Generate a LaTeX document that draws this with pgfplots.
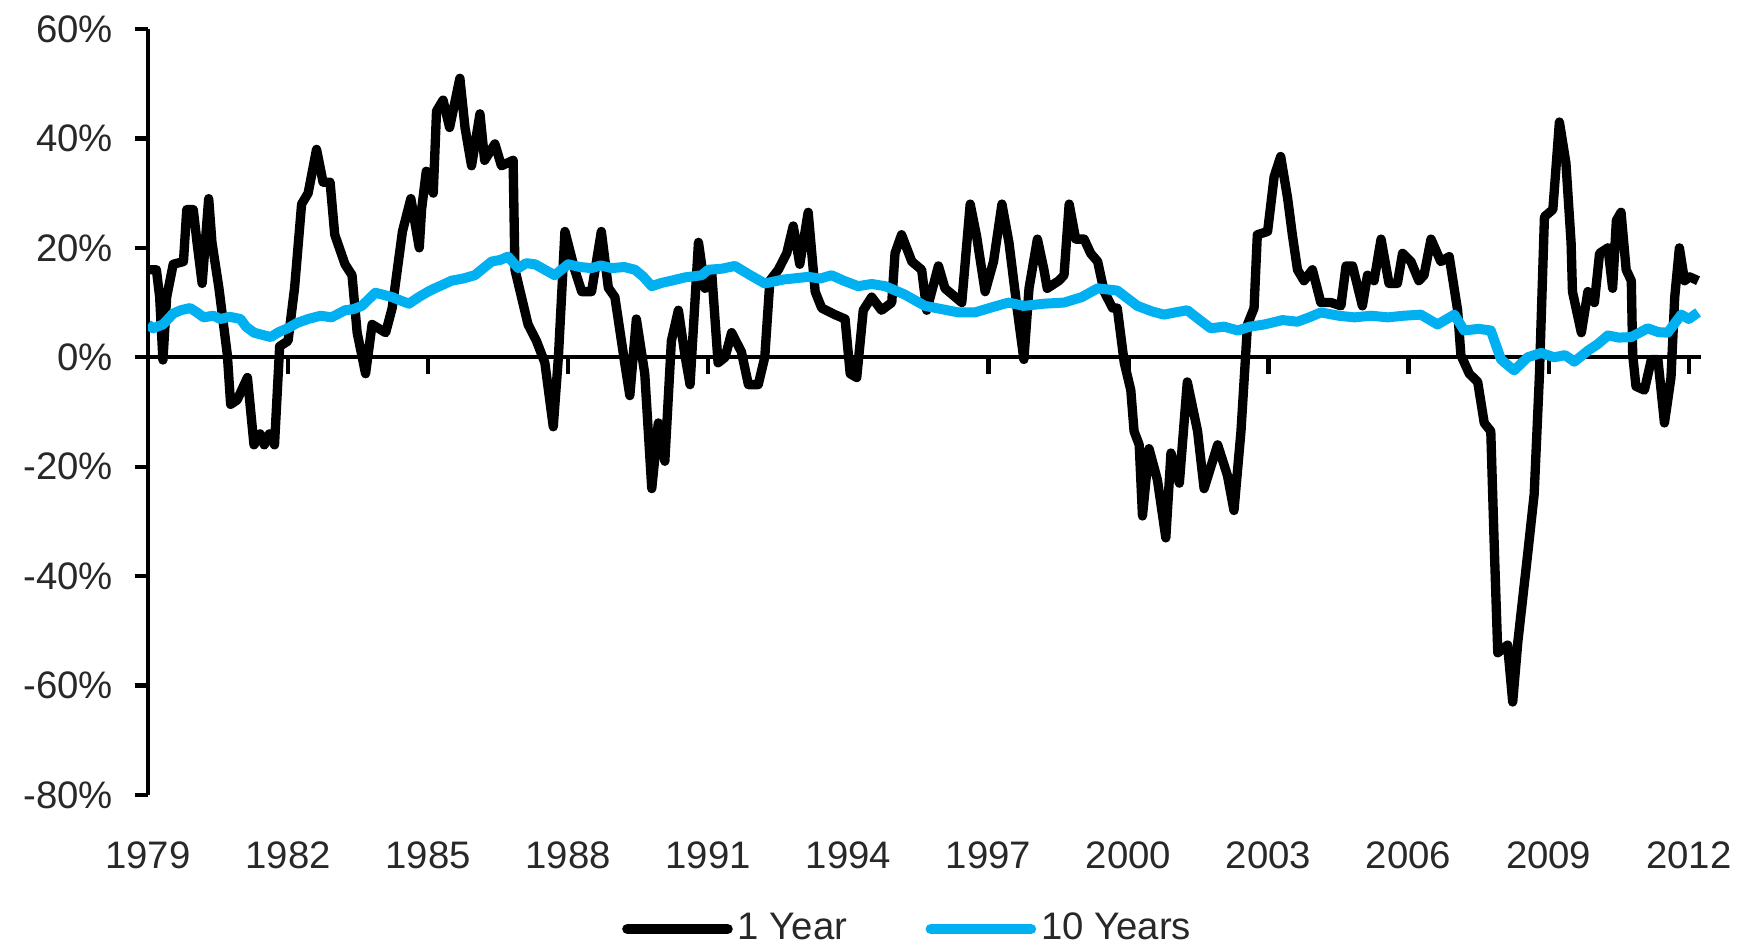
\documentclass[border=0pt]{standalone}
\usepackage{fontspec}
\setmainfont{Liberation Sans}
\usepackage{pgfplots}
\pgfplotsset{compat=1.18}
\definecolor{tenblue}{RGB}{0,176,240}
\definecolor{txt}{RGB}{40,40,40}
\begin{document}
\begin{tikzpicture}
% zero line with downward year ticks (drawn first, beneath the series)
\begin{axis}[
  scale only axis, width=466pt, height=229.8pt,
  xmin=1979, xmax=2012.27, ymin=-80, ymax=60,
  axis x line=middle, axis y line=none,
  x axis line style={-, line width=1.3pt, black},
  xtick={1979,1982,...,2012}, xticklabels={},
  xtick align=outside, major tick length=5pt,
  xtick style={line width=1.3pt, black},
  ytick=\empty,
]
\addplot[draw=none] coordinates {(1979,0) (2012,0)};
\end{axis}
% main axis with the series
\begin{axis}[
  name=main,
  scale only axis, width=466pt, height=229.8pt,
  xmin=1979, xmax=2012.27, ymin=-80, ymax=60,
  axis y line*=left, axis x line*=bottom,
  x axis line style={draw=none},
  y axis line style={-, line width=1.3pt, black},
  ytick={-80,-60,...,60},
  yticklabels={-80\%,-60\%,-40\%,-20\%,0\%,20\%,40\%,60\%},
  ytick style={line width=1.3pt, black},
  tick align=outside, major tick length=4pt,
  xtick={1979,1982,...,2012},
  xticklabels={1979,1982,1985,1988,1991,1994,1997,2000,2003,2006,2009,2012},
  x tick style={draw=none},
  xticklabel style={yshift=-6.5pt, font=\fontsize{11.5}{13}\selectfont, text=txt},
  yticklabel style={xshift=-3pt, font=\fontsize{11.5}{13}\selectfont, text=txt},
  legend style={at={(0.49,-0.175)}, anchor=center, draw=none, fill=none,
    font=\fontsize{11.5}{13}\selectfont, text=txt, legend columns=2,
    /tikz/every even column/.append style={column sep=22pt},
    nodes={inner sep=1.5pt}},
  legend cell align=left,
  legend image code/.code={\draw[#1, line width=3.2pt, line cap=round] (0pt,0pt) -- (30pt,0pt);},
]
\addplot[black, line width=2.8pt, line join=round] coordinates {
(1979.00,16) (1979.18,16) (1979.25,11) (1979.32,-0.5) (1979.40,11) (1979.54,17)
(1979.76,17.5) (1979.83,27) (1979.97,27) (1980.05,21) (1980.16,13.5) (1980.30,29)
(1980.37,21) (1980.52,12.6) (1980.70,0.4) (1980.77,-8.6) (1980.91,-7.8) (1981.13,-3.7)
(1981.27,-16) (1981.40,-14) (1981.49,-16) (1981.60,-14) (1981.71,-16) (1981.82,2) (1982.00,3)
(1982.14,12.7) (1982.29,28) (1982.43,30) (1982.61,38) (1982.75,32) (1982.90,32)
(1983.00,22.4) (1983.22,17) (1983.37,15) (1983.48,4.5) (1983.66,-3) (1983.80,6)
(1984.09,4.5) (1984.23,9) (1984.45,23) (1984.63,29) (1984.81,20) (1984.86,27)
(1984.96,34) (1985.11,30) (1985.18,45) (1985.32,47) (1985.46,42) (1985.68,51)
(1985.79,42) (1985.93,35) (1986.11,44.5) (1986.21,36) (1986.43,39) (1986.57,35)
(1986.82,36) (1986.86,16) (1987.00,11) (1987.14,6) (1987.32,3) (1987.50,-1)
(1987.68,-12.7) (1987.79,0) (1987.93,23) (1988.14,16) (1988.29,12) (1988.50,12)
(1988.71,23) (1988.86,12.7) (1989.00,11) (1989.21,-1) (1989.32,-7) (1989.46,7)
(1989.64,-3) (1989.79,-24) (1989.93,-12) (1990.07,-19) (1990.21,3) (1990.36,8.6)
(1990.50,0.4) (1990.61,-5) (1990.79,21) (1990.93,12.6) (1991.07,16) (1991.21,-1)
(1991.36,0) (1991.50,4.5) (1991.71,1) (1991.86,-5) (1992.07,-5) (1992.21,0)
(1992.32,14) (1992.50,16) (1992.68,19) (1992.82,24) (1992.96,17) (1993.14,26.5)
(1993.29,12) (1993.43,9) (1993.71,7.8) (1993.93,7) (1994.04,-3) (1994.18,-3.7)
(1994.32,8.6) (1994.50,11) (1994.71,8.6) (1994.93,10) (1995.00,19) (1995.14,22.4)
(1995.36,17.5) (1995.57,16) (1995.68,8.6) (1995.93,16.7) (1996.07,12.6) (1996.43,10)
(1996.61,28) (1996.75,22) (1996.93,12) (1997.11,17.5) (1997.29,28) (1997.44,21)
(1997.62,8.6) (1997.76,-0.4) (1997.87,12.6) (1998.05,21.6) (1998.19,16) (1998.26,12.6)
(1998.51,14) (1998.62,15) (1998.73,28) (1998.87,21.6) (1999.05,21.6) (1999.19,19)
(1999.34,17.5) (1999.48,12) (1999.66,9) (1999.76,9) (1999.91,-1) (2000.05,-6)
(2000.12,-13.5) (2000.23,-16) (2000.30,-29) (2000.44,-16.7) (2000.62,-22.4) (2000.80,-33)
(2000.91,-17.5) (2001.09,-23) (2001.26,-4.5) (2001.48,-13.5) (2001.62,-24) (2001.91,-16)
(2002.12,-21.6) (2002.26,-28) (2002.41,-13.5) (2002.55,6) (2002.69,9) (2002.76,22.4)
(2002.98,23) (2003.12,33) (2003.26,36.7) (2003.41,29) (2003.51,22.4) (2003.62,16)
(2003.76,14) (2003.94,16) (2004.12,10) (2004.34,10) (2004.55,9.4) (2004.66,16.7)
(2004.80,16.7) (2005.01,9.4) (2005.12,15) (2005.26,14) (2005.41,21.6) (2005.58,13.5)
(2005.76,13.5) (2005.87,19) (2006.05,17.5) (2006.22,14) (2006.33,15) (2006.48,21.6)
(2006.69,17.5) (2006.87,18.4) (2007.05,8.6) (2007.12,0.4) (2007.30,-3) (2007.48,-4.5)
(2007.62,-12) (2007.76,-13.5) (2007.84,-36) (2007.91,-54) (2008.12,-52.6) (2008.23,-63)
(2008.34,-52) (2008.55,-36) (2008.69,-25) (2008.80,-3.7) (2008.91,25.7) (2009.09,27)
(2009.23,43) (2009.37,35.5) (2009.48,21) (2009.51,12) (2009.70,4.5) (2009.84,12)
(2009.98,10) (2010.09,19) (2010.27,20) (2010.37,12.6) (2010.45,25) (2010.55,26.5)
(2010.66,16) (2010.77,14) (2010.80,0.4) (2010.87,-5.3) (2011.05,-6) (2011.20,-0.4)
(2011.34,-0.4) (2011.48,-12) (2011.62,-3.7) (2011.70,11) (2011.80,20) (2011.91,14)
(2012.02,14.7) (2012.20,14)
};
\addlegendentry{1 Year}
\addplot[tenblue, line width=3pt, line join=round] coordinates {
(1979.00,6) (1979.11,5.3) (1979.32,6) (1979.54,8) (1979.70,8.6) (1979.90,9) (1980.05,8.2)
(1980.19,7.3) (1980.40,7.6) (1980.55,7) (1980.75,7.4) (1980.98,7) (1981.10,5.6) (1981.27,4.5)
(1981.45,4.1) (1981.63,3.7) (1981.80,4.6) (1981.99,5.3) (1982.20,6.3) (1982.43,7)
(1982.70,7.6) (1982.93,7.3) (1983.22,8.6) (1983.40,8.8) (1983.58,9.4) (1983.87,11.8)
(1984.05,11.4) (1984.23,11) (1984.40,10.4) (1984.59,9.8) (1984.80,11) (1985.00,12)
(1985.14,12.6) (1985.30,13.2) (1985.50,14) (1985.75,14.4) (1986.00,15) (1986.20,16.4)
(1986.36,17.5) (1986.55,17.8) (1986.71,18.4) (1986.93,16.3) (1987.10,17.2) (1987.29,17)
(1987.50,16) (1987.71,15) (1988.00,17) (1988.25,16.5) (1988.50,16.3) (1988.70,16.8)
(1988.93,16.3) (1989.20,16.5) (1989.43,16) (1989.60,14.8) (1989.79,13) (1990.00,13.6)
(1990.21,14) (1990.50,14.6) (1990.86,15) (1991.00,16) (1991.30,16.2) (1991.57,16.7)
(1991.90,15) (1992.21,13.5) (1992.60,14.2) (1993.14,14.7) (1993.40,14.4) (1993.64,15)
(1993.90,14) (1994.21,13) (1994.50,13.4) (1994.79,13) (1995.20,11.5) (1995.64,9.4)
(1996.00,8.8) (1996.36,8.2) (1996.71,8.2) (1997.10,9.2) (1997.43,10) (1997.76,9.4)
(1998.20,9.8) (1998.62,10) (1999.00,11) (1999.34,12.6) (1999.76,12.2) (2000.19,9.4)
(2000.50,8.4) (2000.76,7.8) (2001.00,8.2) (2001.26,8.6) (2001.50,7) (2001.76,5.3)
(2002.05,5.6) (2002.34,4.9) (2002.60,5.6) (2002.91,6) (2003.30,6.8) (2003.62,6.5)
(2003.90,7.4) (2004.12,8.2) (2004.50,7.6) (2004.84,7.3) (2005.20,7.6) (2005.55,7.3)
(2005.90,7.6) (2006.26,7.8) (2006.62,6) (2006.98,7.8) (2007.19,4.9) (2007.50,5.2)
(2007.76,4.9) (2007.98,-0.4) (2008.26,-2.4) (2008.55,0) (2008.84,0.8) (2009.12,0)
(2009.35,0.4) (2009.55,-0.8) (2009.84,1.2) (2010.05,2.4) (2010.27,4) (2010.50,3.6)
(2010.77,3.7) (2011.12,5.3) (2011.35,4.6) (2011.55,4.5) (2011.84,7.8) (2012.00,7)
(2012.20,8.2)
};
\addlegendentry{10 Years}
\end{axis}
\pgfresetboundingbox
\path[use as bounding box] (-44.4pt,-45.6pt) rectangle (478.8pt,238.5pt);
\end{tikzpicture}
\end{document}
